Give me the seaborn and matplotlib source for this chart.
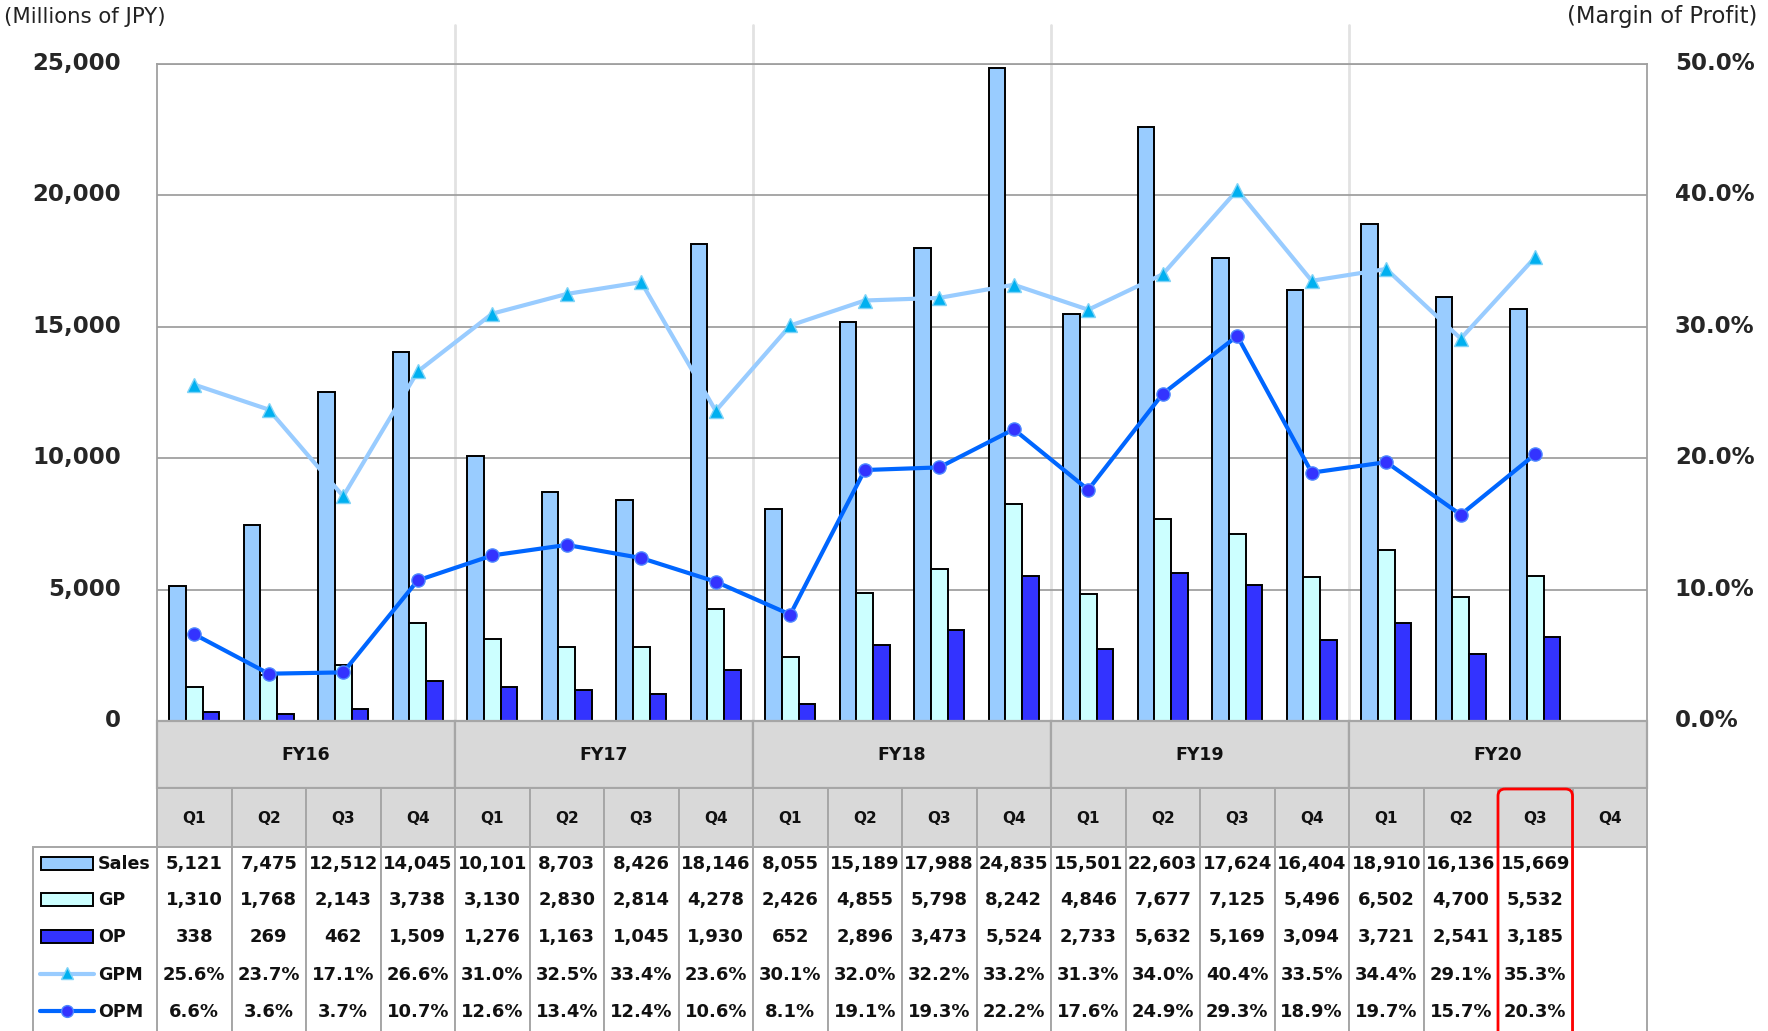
import numpy as np
import pandas as pd
import matplotlib
matplotlib.use("Agg")
import matplotlib.pyplot as plt
import matplotlib.transforms as mtransforms
import seaborn as sns
from matplotlib.patches import Rectangle, FancyBboxPatch
from matplotlib.lines import Line2D

# ---------------- data ----------------
fiscal_years = ["FY16", "FY17", "FY18", "FY19", "FY20"]
quarters = ["Q1", "Q2", "Q3", "Q4"]
sales = [5121, 7475, 12512, 14045, 10101, 8703, 8426, 18146, 8055, 15189,
         17988, 24835, 15501, 22603, 17624, 16404, 18910, 16136, 15669]
gp = [1310, 1768, 2143, 3738, 3130, 2830, 2814, 4278, 2426, 4855,
      5798, 8242, 4846, 7677, 7125, 5496, 6502, 4700, 5532]
op = [338, 269, 462, 1509, 1276, 1163, 1045, 1930, 652, 2896,
      3473, 5524, 2733, 5632, 5169, 3094, 3721, 2541, 3185]
gpm = [25.6, 23.7, 17.1, 26.6, 31.0, 32.5, 33.4, 23.6, 30.1, 32.0,
       32.2, 33.2, 31.3, 34.0, 40.4, 33.5, 34.4, 29.1, 35.3]
opm = [6.6, 3.6, 3.7, 10.7, 12.6, 13.4, 12.4, 10.6, 8.1, 19.1,
       19.3, 22.2, 17.6, 24.9, 29.3, 18.9, 19.7, 15.7, 20.3]
series_names = ["Sales", "GP", "OP", "GPM", "OPM"]
left_ticks = [0, 5000, 10000, 15000, 20000, 25000]
right_ticks = [0, 10, 20, 30, 40, 50]
left_title = "(Millions of JPY)"
right_title = "(Margin of Profit)"
highlight = "FY20 Q3"

# ---------------- style ----------------
sns.set_style("white")
plt.rcParams["font.family"] = ["DejaVu Sans", "Noto Sans CJK JP"]

c_sales, c_gp, c_op = "#99CCFF", "#CCFFFF", "#3333FF"
c_gpm_line, c_gpm_mk = "#99CCFF", "#00B0F0"
c_opm_line, c_opm_mk = "#0066FF", "#3333FF"
grid_c = "#A0A0A0"
cell_edge = "#A6A6A6"
head_fc = "#D9D9D9"

periods = [f"{fy} {q}" for fy in fiscal_years for q in quarters]
rows = []
for i in range(len(sales)):
    rows.append((periods[i], "Sales", sales[i]))
    rows.append((periods[i], "GP", gp[i]))
    rows.append((periods[i], "OP", op[i]))
df = pd.DataFrame(rows, columns=["period", "series", "value"])

W, H = 1768, 1031
L, R, T, B = 157, 1647, 64, 721
fig = plt.figure(figsize=(W / 100, H / 100), dpi=100)
ax = fig.add_axes([L / W, 1 - B / H, (R - L) / W, (B - T) / H])

sns.barplot(data=df, x="period", y="value", hue="series", order=periods,
            hue_order=["Sales", "GP", "OP"], palette=[c_sales, c_gp, c_op],
            width=0.67, edgecolor="black", linewidth=1.4, saturation=1,
            errorbar=None, legend=False, ax=ax, zorder=2)

ax.set_xlim(-0.5, len(periods) - 0.5)
ax.set_ylim(0, left_ticks[-1])
ax.set_xticks([])
ax.set_xlabel("")
ax.set_ylabel("")
ax.set_yticks(left_ticks)
ax.set_yticklabels([f"{t:,}" for t in left_ticks], fontweight="bold", fontsize=16.5)
ax.tick_params(axis="y", length=0, pad=26)
ax.grid(axis="y", color=grid_c, lw=1.3)
ax.grid(axis="x", visible=False)
ax.set_axisbelow(True)
for s in ["left", "top"]:
    ax.spines[s].set_color(grid_c)
    ax.spines[s].set_linewidth(1.3)
ax.spines["right"].set_visible(False)
ax.spines["bottom"].set_visible(False)

# year separators
for k in range(1, len(fiscal_years)):
    ax.axvline(4 * k - 0.5, ymin=0, ymax=(B - 25) / (B - T), clip_on=False,
               color="#E2E2E2", lw=2, zorder=0.5)

ax2 = ax.twinx()
ax2.set_ylim(0, right_ticks[-1])
ax2.set_yticks(right_ticks)
ax2.set_yticklabels([f"{t:.1f}%" for t in right_ticks], fontweight="bold", fontsize=16.5)
ax2.tick_params(axis="y", length=0, pad=20)
for s in ["left", "top", "bottom"]:
    ax2.spines[s].set_visible(False)
ax2.spines["right"].set_color(grid_c)
ax2.spines["right"].set_linewidth(1.3)
ax2.grid(False)

# nudge tick labels slightly upward, as in the reference
up = mtransforms.ScaledTranslation(0, 3 / 100, fig.dpi_scale_trans)
for lab in ax.get_yticklabels() + ax2.get_yticklabels():
    lab.set_transform(lab.get_transform() + up)

xi = np.arange(len(gpm))
ax2.plot(xi, gpm, color=c_gpm_line, lw=3, marker="^", markersize=10,
         markerfacecolor=c_gpm_mk, markeredgecolor="#7FD3F7", markeredgewidth=1, zorder=3)
ax2.plot(xi, opm, color=c_opm_line, lw=3, marker="o", markersize=9.5,
         markerfacecolor=c_opm_mk, markeredgecolor="#4D88FF", markeredgewidth=1, zorder=4)

# ---------------- overlay: titles + table ----------------
ov = fig.add_axes([0, 0, 1, 1])
ov.set_xlim(0, W)
ov.set_ylim(H, 0)
ov.axis("off")

ov.text(4, 17, left_title, fontsize=15.3, ha="left", va="center", color="#222222")
ov.text(1757, 17, right_title, fontsize=16.3, ha="right", va="center", color="#222222")

colw = (R - L) / len(periods)
fy_top, q_top, d_top, d_bot = B, 788, 847, H + 2

for k, fy in enumerate(fiscal_years):
    x0 = L + 4 * k * colw
    ov.add_patch(Rectangle((x0, fy_top), 4 * colw, q_top - fy_top, fc=head_fc,
                           ec=cell_edge, lw=1.6))
    ov.text(x0 + 2 * colw, (fy_top + q_top) / 2 + 1, fy, ha="center", va="center",
            fontsize=12.5, fontweight="bold", color="#111111")

for j, p in enumerate(periods):
    x0 = L + j * colw
    ov.add_patch(Rectangle((x0, q_top), colw, d_top - q_top, fc=head_fc,
                           ec=cell_edge, lw=1.4))
    ov.text(x0 + colw / 2, (q_top + d_top) / 2 + 1, p.split()[1], ha="center",
            va="center", fontsize=11, fontweight="bold", color="#111111")
    ov.add_patch(Rectangle((x0, d_top), colw, d_bot - d_top, fc="white",
                           ec=cell_edge, lw=1.4))

ov.add_patch(Rectangle((33, d_top), L - 33, d_bot - d_top, fc="white", ec=cell_edge, lw=1.4))

row_y = [863, 899, 936, 974, 1011]
table_vals = [
    [f"{v:,}" for v in sales],
    [f"{v:,}" for v in gp],
    [f"{v:,}" for v in op],
    [f"{v:.1f}%" for v in gpm],
    [f"{v:.1f}%" for v in opm],
]
for r, vals in enumerate(table_vals):
    for j, s in enumerate(vals):
        ov.text(L + (j + 0.5) * colw, row_y[r] + 1, s, ha="center", va="center",
                fontsize=13, fontweight="bold", color="#111111")

# legend column
bar_cols = [c_sales, c_gp, c_op]
for r in range(3):
    ov.add_patch(Rectangle((41, row_y[r] - 6.5), 52, 13, fc=bar_cols[r], ec="black", lw=1.4))
ov.add_line(Line2D([40, 94], [row_y[3], row_y[3]], color=c_gpm_line, lw=3))
ov.plot([67], [row_y[3] - 1], marker="^", markersize=9, markerfacecolor=c_gpm_mk,
        markeredgecolor="#7FD3F7", markeredgewidth=1)
ov.add_line(Line2D([40, 94], [row_y[4], row_y[4]], color=c_opm_line, lw=3))
ov.plot([67], [row_y[4]], marker="o", markersize=8.5, markerfacecolor=c_opm_mk,
        markeredgecolor="#4D88FF", markeredgewidth=1)
for r, name in enumerate(series_names):
    ov.text(98, row_y[r] + 1, name, ha="left", va="center", fontsize=12.6,
            fontweight="bold", color="#111111")

# highlight box
hj = periods.index(highlight)
ov.add_patch(FancyBboxPatch((L + hj * colw, q_top + 1), colw, H - q_top + 20,
                            boxstyle="round,pad=0,rounding_size=7",
                            fc="none", ec="#FF0000", lw=2, zorder=5))

fig.savefig("out.png", dpi=100)
